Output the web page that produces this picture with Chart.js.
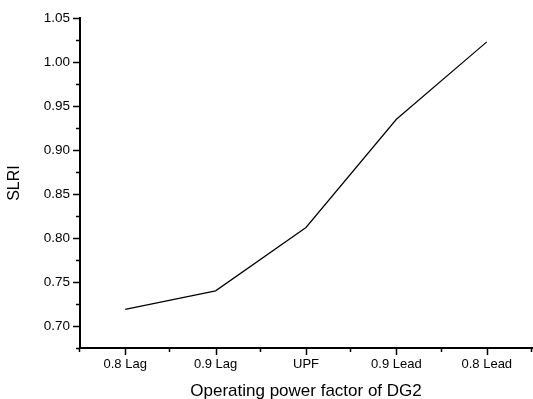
<!DOCTYPE html>
<html>
<head>
<meta charset="utf-8">
<script src="https://cdn.jsdelivr.net/npm/chart.js@4/dist/chart.umd.min.js"></script>
<style>
  html, body { margin: 0; padding: 0; background: #fff; }
  #wrap { width: 533px; height: 399px; }
</style>
</head>
<body>
<div id="wrap"><canvas id="slri"></canvas></div>
<script>
// data
const powerFactors = ['0.8 Lag', '0.9 Lag', 'UPF', '0.9 Lead', '0.8 Lead'];
const slriValues = [0.719, 0.740, 0.812, 0.935, 1.023];
const yTickValues = [0.70, 0.75, 0.80, 0.85, 0.90, 0.95, 1.00, 1.05];
const yMinorValues = [0.675, 0.725, 0.775, 0.825, 0.875, 0.925, 0.975, 1.025];
const xMinorValues = [-0.5, 0.5, 1.5, 2.5, 3.5, 4.5];

// Origin-style outward tick marks, drawn through the scales
const tickMarks = {
    id: 'tickMarks',
    afterDraw(chart) {
        const ctx = chart.ctx;
        const xs = chart.scales.x, ys = chart.scales.y;
        const area = chart.chartArea;
        ctx.save();
        ctx.strokeStyle = '#000';
        ctx.lineWidth = 1.5;
        ctx.beginPath();
        yTickValues.forEach(v => {
            const p = Math.round(ys.getPixelForValue(v)) + 0.5;
            ctx.moveTo(area.left, p); ctx.lineTo(area.left - 7, p);
        });
        yMinorValues.forEach(v => {
            const p = Math.round(ys.getPixelForValue(v)) + 0.5;
            ctx.moveTo(area.left, p); ctx.lineTo(area.left - 4, p);
        });
        powerFactors.forEach((c, i) => {
            const p = Math.round(xs.getPixelForValue(i)) + 0.5;
            ctx.moveTo(p, area.bottom); ctx.lineTo(p, area.bottom + 7);
        });
        xMinorValues.forEach(v => {
            const p = Math.round(xs.getPixelForValue(v)) - 0.5;
            ctx.moveTo(p, area.bottom); ctx.lineTo(p, area.bottom + 4);
        });
        ctx.stroke();
        ctx.restore();
    }
};

const data = {
    datasets: [{
        label: 'SLRI',
        data: slriValues.map((v, i) => ({ x: i, y: v })),
        borderColor: '#000',
        borderWidth: 1.2,
        pointRadius: 0,
        tension: 0,
        fill: false
    }]
};

const config = {
    type: 'line',
    data,
    plugins: [tickMarks],
    options: {
        responsive: true,
        maintainAspectRatio: false,
        animation: false,
        layout: { padding: { top: 18, right: 1, left: 0, bottom: 0 } },
        plugins: {
            legend: { display: false },
            tooltip: { enabled: false }
        },
        scales: {
            x: {
                type: 'linear',
                min: -0.5,
                max: 4.5,
                afterBuildTicks: s => { s.ticks = powerFactors.map((c, i) => ({ value: i })); },
                afterFit: s => { s.height = 51; },
                grid: { display: false, drawTicks: false },
                border: { display: true, color: '#000', width: 2 },
                ticks: {
                    color: '#000',
                    padding: 9,
                    maxRotation: 0,
                    font: { family: 'Liberation Sans', size: 13 },
                    callback: v => powerFactors[v]
                },
                title: {
                    display: true,
                    text: 'Operating power factor of DG2',
                    color: '#000',
                    font: { family: 'Liberation Sans', size: 17 },
                    padding: { top: 0, bottom: -3 }
                }
            },
            y: {
                min: 0.675,
                max: 1.05,
                afterBuildTicks: s => { s.ticks = yTickValues.map(v => ({ value: v })); },
                afterFit: s => { s.width = 80; },
                grid: { display: false, drawTicks: false },
                border: { display: true, color: '#000', width: 2 },
                ticks: {
                    color: '#000',
                    padding: 10,
                    font: { family: 'Liberation Sans', size: 13.5 },
                    callback: v => v.toFixed(2)
                },
                title: {
                    display: true,
                    text: 'SLRI',
                    color: '#000',
                    font: { family: 'Liberation Sans', size: 16 },
                    padding: { top: 5, bottom: 0 }
                }
            }
        }
    }
};

// render init block
const slriChart = new Chart(document.getElementById('slri'), config);
</script>
</body>
</html>
